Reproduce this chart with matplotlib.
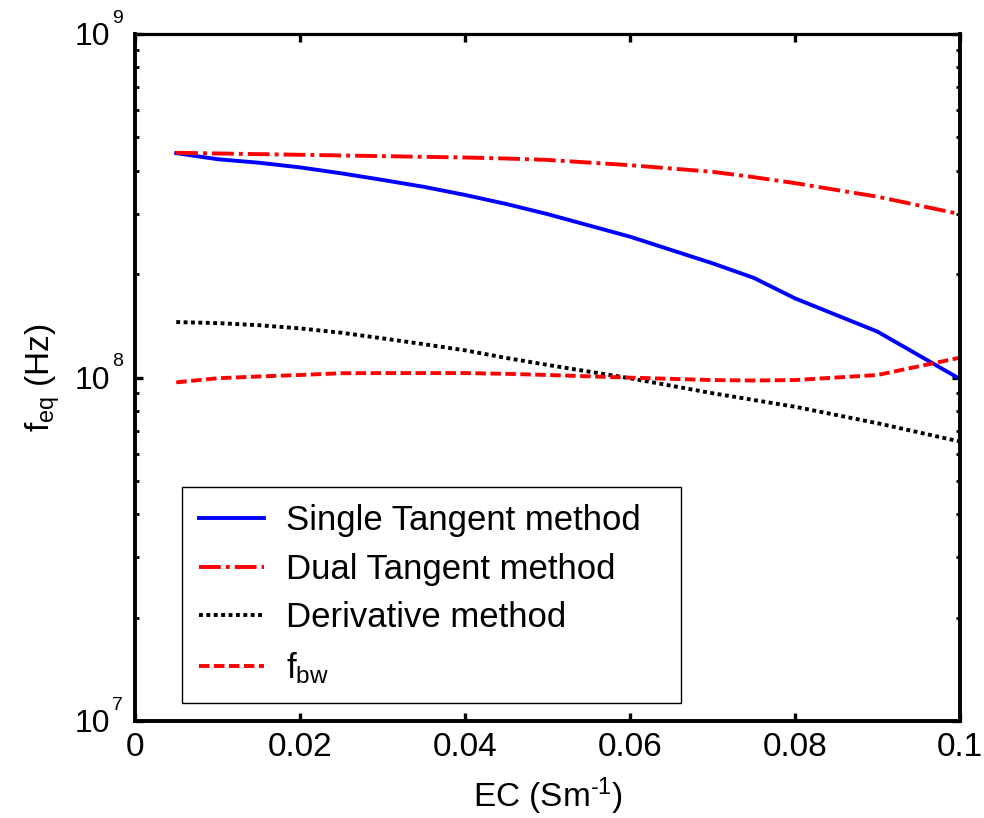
import matplotlib
matplotlib.use("Agg")
import matplotlib.pyplot as plt
import matplotlib.transforms as mtransforms
import numpy as np

plt.rcParams['font.family'] = ['Liberation Sans', 'DejaVu Sans']
plt.rcParams['mathtext.fontset'] = 'custom'
plt.rcParams['mathtext.rm'] = 'Liberation Sans'
plt.rcParams['mathtext.it'] = 'Liberation Sans:italic'
plt.rcParams['mathtext.bf'] = 'Liberation Sans:bold'

# Electrical conductivity (S/m)
ec = [0.005, 0.01, 0.015, 0.02, 0.025, 0.03, 0.035, 0.04, 0.045, 0.05,
      0.06, 0.07, 0.075, 0.08, 0.09, 0.1]

# Equivalent frequency (Hz) per extraction method
single_tangent = [4.50e8, 4.32e8, 4.22e8, 4.09e8, 3.93e8, 3.76e8, 3.59e8, 3.40e8,
                  3.20e8, 2.99e8, 2.57e8, 2.15e8, 1.95e8, 1.70e8, 1.36e8, 0.99e8]
dual_tangent = [4.51e8, 4.49e8, 4.47e8, 4.45e8, 4.43e8, 4.41e8, 4.39e8, 4.37e8,
                4.34e8, 4.30e8, 4.15e8, 3.97e8, 3.83e8, 3.68e8, 3.36e8, 2.99e8]
derivative = [1.45e8, 1.44e8, 1.42e8, 1.39e8, 1.35e8, 1.30e8, 1.25e8, 1.20e8,
              1.14e8, 1.088e8, 0.995e8, 0.90e8, 0.86e8, 0.822e8, 0.736e8, 0.651e8]
f_bw = [0.968e8, 0.995e8, 1.007e8, 1.017e8, 1.029e8, 1.03e8, 1.03e8, 1.03e8,
        1.025e8, 1.017e8, 0.999e8, 0.983e8, 0.98e8, 0.983e8, 1.017e8, 1.142e8]

labels = ['Single Tangent method', 'Dual Tangent method', 'Derivative method',
          r'f$_{\mathregular{bw}}$']

xticks = [0, 0.02, 0.04, 0.06, 0.08, 0.1]
xticklabels = ['0', '0.02', '0.04', '0.06', '0.08', '0.1']
ydecades = [7, 8, 9]

fig = plt.figure(figsize=(9.84, 8.18), dpi=100)
ax = fig.add_axes([135 / 984, 1 - 721 / 818, 825 / 984, 687 / 818])

lw = 2.8
ax.plot(ec, single_tangent, color='#0000ff', lw=lw, linestyle='-', label=labels[0])
ax.plot(ec, dual_tangent, color='#ff0000', lw=lw, linestyle=(0, (5.6, 1.3, 1.0, 1.3)),
        label=labels[1])
ax.plot(ec, derivative, color='#000000', lw=lw, linestyle=(0, (1.0, 0.9)), label=labels[2])
ax.plot(ec, f_bw, color='#ff0000', lw=lw, linestyle=(0, (2.7, 1.15)), label=labels[3])

ax.set_yscale('log')
ax.set_xlim(0, 0.1)
ax.set_ylim(1e7, 1e9)

ax.set_xticks(xticks)
ax.set_xticklabels(xticklabels, fontsize=24)
ax.tick_params(axis='x', which='major', direction='in', length=6, width=2.4,
               top=True, bottom=True, pad=8)
ax.tick_params(axis='y', which='major', direction='in', length=5.5, width=2.4,
               left=True, right=True, labelleft=False)
ax.tick_params(axis='y', which='minor', direction='in', length=3.2, width=2.0,
               left=True, right=True, labelleft=False)
ax.tick_params(axis='x', which='minor', bottom=False, top=False)

for side in ['left', 'bottom', 'right']:
    ax.spines[side].set_linewidth(2.8)
ax.spines['top'].set_linewidth(2.3)

# Decade labels in MATLAB style: "10" with a small raised exponent
ytrans = mtransforms.blended_transform_factory(ax.transAxes, ax.transData)
for k in ydecades:
    ax.annotate('10', xy=(0, 10.0 ** k), xycoords=ytrans,
                xytext=(-18, -8.2), textcoords='offset points',
                ha='right', va='baseline', fontsize=23, annotation_clip=False)
    ax.annotate(str(k), xy=(0, 10.0 ** k), xycoords=ytrans,
                xytext=(-16.6, 8.0), textcoords='offset points',
                ha='left', va='baseline', fontsize=14, annotation_clip=False)

ax.set_xlabel(r'EC (Sm$^{\text{-1}}$)', fontsize=24, labelpad=9)
ax.set_ylabel(r'f$_{\mathregular{eq}}$ (Hz)', fontsize=24)
ax.yaxis.set_label_coords(-0.088, 0.5)

leg = ax.legend(loc='lower left', bbox_to_anchor=(0.057, 0.026, 0.605, 0.3),
                mode='expand', fontsize=25,
                frameon=True, fancybox=False, shadow=False, framealpha=1,
                edgecolor='black', handlelength=1.87, handletextpad=0.63,
                labelspacing=0.45, borderpad=0.5, borderaxespad=0)
leg.get_frame().set_linewidth(1.0)

fig.savefig('out.png', dpi=100, facecolor='white')
